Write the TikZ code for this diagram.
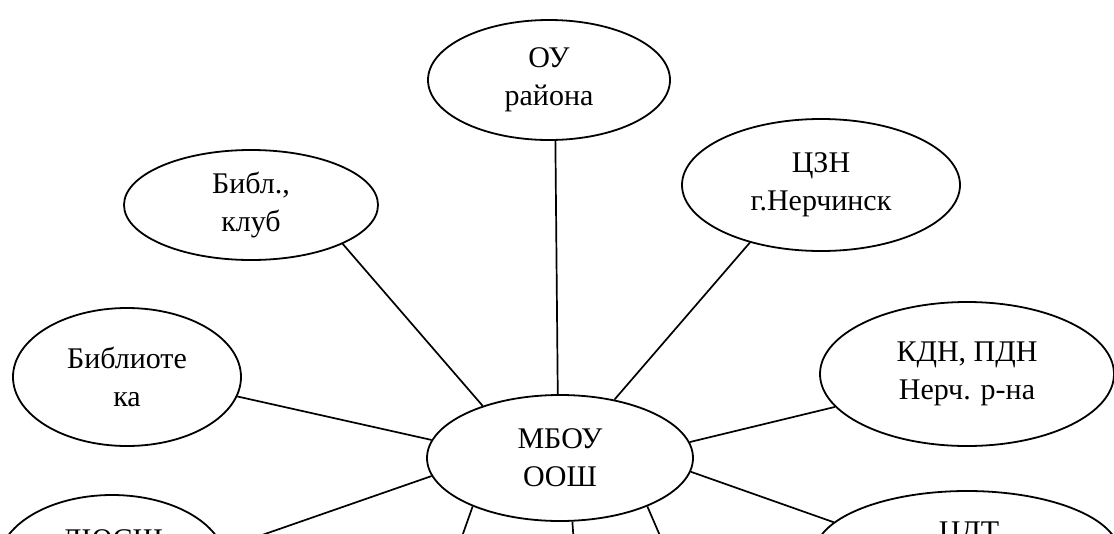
\documentclass[tikz,border=0pt]{standalone}
\usepackage{fontspec}
\setmainfont{Liberation Serif}
\usetikzlibrary{shapes.geometric}
\begin{document}
\begin{tikzpicture}[x=1pt,y=-1pt,
  oval/.style={ellipse, draw, line width=1.8pt, inner sep=0pt, align=center,
    font=\fontsize{30}{38}\selectfont},
  txt/.style={inner sep=0pt, font=\fontsize{30}{38}\selectfont},
  link/.style={line width=1.7pt}]
\useasboundingbox (0,0) rectangle (1114,533);
\clip (0,0) rectangle (1114,533);
\node[oval, minimum width=242, minimum height=120] (ou) at (549,80) {ОУ\\района};
\node[oval, minimum width=278, minimum height=132] (czn) at (821,185) {ЦЗН\\г.Нерчинск};
\node[oval, minimum width=254, minimum height=110] (bk) at (251,205) {Библ.,\\клуб};
\node[oval, minimum width=228, minimum height=138] (bib) at (127,377) {Библиоте\\ка};
\node[oval, minimum width=294, minimum height=144] (kdn) at (967,374) {КДН, ПДН\\Нерч. р-на};
\node[oval, minimum width=266, minimum height=126] (m) at (560,458) {МБОУ\\ООШ};
\node[oval, minimum width=228, minimum height=138] (bl) at (112,564) {};
\node[txt, anchor=base] (blt) at (112,549) {ДЮСШ};
\node[oval, minimum width=304, minimum height=124] (cdt) at (967,553) {};
\node[txt, anchor=base] (cdtt) at (969,541) {ЦДТ};
\coordinate (d1) at (459,545);
\coordinate (d2) at (574,545);
\coordinate (d3) at (664,545);
\draw[link] (ou.-84) -- (m.92);
\draw[link] (czn.219.6) -- (m.47);
\draw[link] (bk.337.6) -- (m.146.3);
\draw[link] (bib.350.5) -- (m.172);
\draw[link] (kdn.194.4) -- (m.7.7);
\draw[link] (m.188.7) -- (bl.8);
\draw[link] (m.354.8) -- (cdt.167);
\draw[link] (m.209.8) -- (d1);
\draw[link] (m.281) -- (d2);
\draw[link] (m.331) -- (d3);
\end{tikzpicture}
\end{document}
